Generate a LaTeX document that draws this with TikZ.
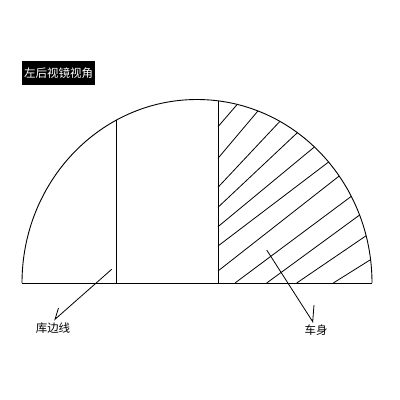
\documentclass[tikz,border=0pt]{standalone}
\usepackage{fontspec}
\newfontfamily\cjk{Noto Sans CJK SC}
\usetikzlibrary{calc}

\begin{document}
\begin{tikzpicture}[x=1pt,y=-1pt,line width=0.9pt,font=\cjk\fontsize{11.5}{13}\selectfont, hatch line/.style={line width=0.8pt}, leader/.style={line width=0.8pt}]

\useasboundingbox (0,0) rectangle (400,400);

\begin{scope}
\coordinate (l) at (22,283);
\coordinate (r) at (372,283);

\draw (l) -- (r);
\draw (l) arc[start angle=180, end angle=0, x radius=175pt, y radius=183.5pt];

\begin{scope}
\clip (l) arc[start angle=180, end angle=0, x radius=175pt, y radius=183.5pt] -- cycle;
\draw (116,283) -- (116,90);
\draw (218,283) -- (218,90);
\foreach \xa/\ya/\xb/\yb in {218/126.7/236.7/105, 218/158.3/257.3/111.7, 218/187.3/279/122.3,
  218/207.3/296.7/133.3, 218/226.7/314/147.3, 218/246/327.7/162.7, 218/271/338.3/176.7,
  235/283/350/197.3, 266.7/283/357.3/216.7, 296.7/283/364.7/236.7, 333.3/283/370/260}
  \draw[hatch line] (\xa,\ya) -- ($(\xa,\ya)!1.15!(\xb,\yb)$);
\end{scope}

%\draw (197,283) circle (2pt);
\end{scope}

\node[fill=black, text=white, minimum width=73pt, minimum height=24pt, inner sep=0pt] (title) at (58.7,73) {左后视镜视角};

\node (kbx) at (53,328.5) {库边线};
\node (cs) at (316,330) {车身};

\coordinate (kbx a) at (111.7,269.3);
\coordinate (kbx b) at (55,319.3);
\coordinate (kbx c) at (58.5,308);
\draw[leader] (kbx a) -- (kbx b) -- (kbx c);

\coordinate (cs a) at (266.7,250);
\coordinate (cs b) at (312.7,321.7);
\coordinate (cs c) at (314,305);
\draw[leader] (cs a) -- (cs b) -- (cs c);

\end{tikzpicture}
\end{document}
